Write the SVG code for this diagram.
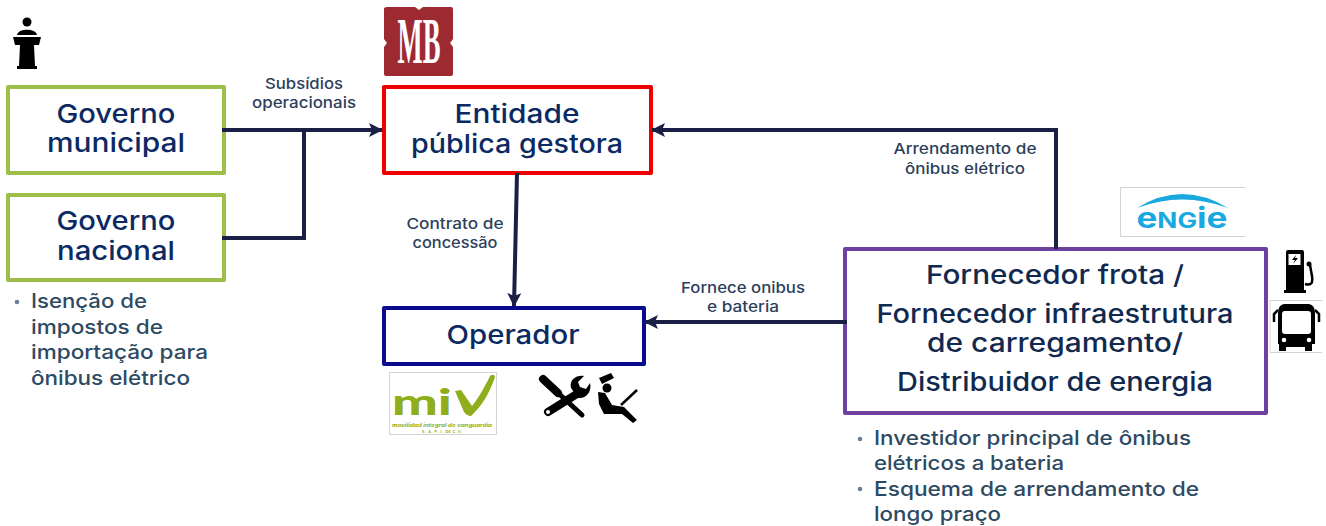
<svg xmlns="http://www.w3.org/2000/svg" width="1326" height="526" viewBox="0 0 1326 526">
<style>
text{font-family:Inter,"Liberation Sans",sans-serif}
.box{fill:#fff;stroke-width:4;stroke-linejoin:round}
.t{font-size:26px;fill:#0b2a63;text-anchor:middle;font-weight:500}
.p{font-size:26px;fill:#12294f;text-anchor:middle;font-weight:500}
.l{font-size:15px;fill:#2d3f5c;text-anchor:middle;font-weight:500}
.b{font-size:20px;fill:#2d4a63;font-weight:500}
.c{fill:none;stroke:#1a1f45;stroke-width:4}
.f{fill:#000}
.d{fill:#6d7d96}
.logo{fill:#fff;stroke:#d4d4d4;stroke-width:1}
</style>
<defs>
<marker id="a" markerUnits="userSpaceOnUse" markerWidth="16" markerHeight="16" refX="13" refY="8" orient="auto"><path d="M0 1 L14 8 L0 15 L3 8Z" fill="#1a1f45"/></marker>
</defs>
<g id="governo-municipal">
<rect class="box" x="8" y="87" width="216" height="86" stroke="#9dbf4a"/>
<text class="t" x="116" y="123" textLength="119" lengthAdjust="spacingAndGlyphs">Governo</text>
<text class="t" x="116" y="152" textLength="138" lengthAdjust="spacingAndGlyphs">municipal</text>
</g>
<g id="governo-nacional">
<rect class="box" x="8" y="195" width="216" height="85" stroke="#9dbf4a"/>
<text class="t" x="116" y="230" textLength="119" lengthAdjust="spacingAndGlyphs">Governo</text>
<text class="t" x="116" y="260" textLength="118" lengthAdjust="spacingAndGlyphs">nacional</text>
</g>
<g id="entidade">
<rect class="box" x="384" y="87" width="267" height="86" stroke="#ee0000"/>
<text class="t" x="517" y="123" textLength="125" lengthAdjust="spacingAndGlyphs">Entidade</text>
<text class="t" x="517" y="153" textLength="212" lengthAdjust="spacingAndGlyphs">pública gestora</text>
</g>
<g id="operador">
<rect class="box" x="384" y="308" width="260" height="56" stroke="#0a0a8c"/>
<text class="t" x="513" y="344" textLength="133" lengthAdjust="spacingAndGlyphs">Operador</text>
</g>
<g id="fornecedor">
<rect class="box" x="845" y="249" width="421" height="164" stroke="#7040a0"/>
<text class="p" x="1055" y="284" textLength="258" lengthAdjust="spacingAndGlyphs">Fornecedor frota /</text>
<text class="p" x="1055" y="323" textLength="357" lengthAdjust="spacingAndGlyphs">Fornecedor infraestrutura</text>
<text class="p" x="1055" y="352" textLength="256" lengthAdjust="spacingAndGlyphs">de carregamento/</text>
<text class="p" x="1055" y="391" textLength="316" lengthAdjust="spacingAndGlyphs">Distribuidor de energia</text>
</g>
<g id="connectors">
<path class="c" d="M222 130H382" marker-end="url(#a)"/>
<path class="c" d="M222 238H304V130"/>
<path class="c" d="M1056 249V130H652" marker-end="url(#a)"/>
<path class="c" d="M517 173L514 306" marker-end="url(#a)"/>
<path class="c" d="M847 322H645" marker-end="url(#a)"/>
</g>
<g id="labels">
<text class="l" x="304" y="89" textLength="78" lengthAdjust="spacingAndGlyphs">Subsídios</text>
<text class="l" x="304" y="108" textLength="104" lengthAdjust="spacingAndGlyphs">operacionais</text>
<text class="l" x="965" y="154" textLength="143" lengthAdjust="spacingAndGlyphs">Arrendamento de</text>
<text class="l" x="965" y="174" textLength="120" lengthAdjust="spacingAndGlyphs">ônibus elétrico</text>
<text class="l" x="455" y="229" textLength="97" lengthAdjust="spacingAndGlyphs">Contrato de</text>
<text class="l" x="455" y="248" textLength="85" lengthAdjust="spacingAndGlyphs">concessão</text>
<text class="l" x="743" y="293" textLength="124" lengthAdjust="spacingAndGlyphs">Fornece onibus</text>
<text class="l" x="743" y="312" textLength="72" lengthAdjust="spacingAndGlyphs">e bateria</text>
</g>
<g id="notas-governo">
<circle class="d" cx="17" cy="302" r="2.300"/>
<text class="b" x="31" y="308" textLength="116" lengthAdjust="spacingAndGlyphs">Isenção de</text>
<text class="b" x="31" y="334" textLength="132" lengthAdjust="spacingAndGlyphs">impostos de</text>
<text class="b" x="31" y="359" textLength="177" lengthAdjust="spacingAndGlyphs">importação para</text>
<text class="b" x="31" y="385" textLength="159" lengthAdjust="spacingAndGlyphs">ônibus elétrico</text>
</g>
<g id="notas-fornecedor">
<circle class="d" cx="860" cy="439" r="2.300"/>
<text class="b" x="874" y="445" textLength="317" lengthAdjust="spacingAndGlyphs">Investidor principal de ônibus</text>
<text class="b" x="874" y="470" textLength="190" lengthAdjust="spacingAndGlyphs">elétricos a bateria</text>
<circle class="d" cx="860" cy="489" r="2.300"/>
<text class="b" x="874" y="496" textLength="325" lengthAdjust="spacingAndGlyphs">Esquema de arrendamento de</text>
<text class="b" x="874" y="521" textLength="127" lengthAdjust="spacingAndGlyphs">longo praço</text>
</g>
<g id="icone-podio">
<circle cx="27" cy="22" r="4.500" class="f"/>
<path class="f" d="M17 35C18 28 36 28 37 35Z"/>
<path class="f" d="M13 37H41L39 45H34L35 66H37V69H17V66H19L20 45H15Z"/>
</g>
<g id="logo-mb">
<path fill="#9c2a30" d="M387 7H415L419 10L423 7H451Q453 7 453 9V39L450 43L453 47V74Q453 76 451 76H387Q384 76 384 74V47L387 43L384 39V9Q384 7 387 7Z"/>
<text x="419" y="63" text-anchor="middle" font-size="65" font-weight="700" fill="#fff" textLength="43" lengthAdjust="spacingAndGlyphs" style="font-family:'Liberation Serif',serif">MB</text>
</g>
<g id="logo-miv">
<rect class="logo" x="389.500" y="372.500" width="107" height="62"/>
<text x="422" y="415" text-anchor="middle" font-size="36" font-weight="900" fill="#8fae1b" textLength="60" lengthAdjust="spacingAndGlyphs" style="font-family:Lato,sans-serif">mi</text>
<path d="M455 391L461 390L472 406C480 396 486 384 490 376Q494 373 495 377C490 392 482 406 471 416Q467 416 464 412Z" fill="#8fae1b"/>
<text x="442" y="427" text-anchor="middle" font-size="5" font-style="italic" font-weight="700" fill="#8fae1b" textLength="100" lengthAdjust="spacingAndGlyphs">movilidad integral de vanguardia</text>
<text x="442" y="433" text-anchor="middle" font-size="3.500" font-weight="700" fill="#8fae1b" textLength="40">S. A. P. I. DE C.V.</text>
</g>
<g id="icone-ferramentas">
<path d="M543 379L558 393" stroke="#000" stroke-width="8" stroke-linecap="round"/>
<path d="M556 391L582 415" stroke="#000" stroke-width="5" stroke-linecap="round"/>
<path d="M578 397L549 412" stroke="none"/>
<path d="M577 393L549 411" stroke="#000" stroke-width="0"/>
<path d="M580 392L548 412" stroke="#000" stroke-width="8" stroke-linecap="round"/>
<path class="f" d="M571 388C569 380 576 375 584 376L578 382L580 387L586 389L590 383C592 391 587 399 578 398Z"/>
<circle cx="548" cy="412" r="2" fill="#fff"/>
</g>
<g id="icone-motorista">
<path class="f" d="M599 378L611 373L614 378L602 384Z"/>
<circle cx="607" cy="388" r="4.500" class="f"/>
<path class="f" d="M598 392L605 393L612 405L624 407L637 420L633 423L622 414L604 414L599 404Z"/>
<path d="M621 405L637 390" stroke="#000" stroke-width="2.500"/>
</g>
<g id="logo-engie">
<path d="M1120.500 187.500H1245M1120.500 187.500V236.500H1245" fill="#fff" stroke="#d4d4d4"/>
<path d="M1137 208Q1182 180 1228 208Q1182 191 1137 208Z" fill="#19a9e0"/>
<text x="1182" y="228" text-anchor="middle" font-weight="700" fill="#19a9e0" textLength="91" lengthAdjust="spacingAndGlyphs"><tspan font-size="28">e</tspan><tspan font-size="21">NG</tspan><tspan font-size="28">ie</tspan></text>
</g>
<g id="icone-bomba">
<path class="f" d="M1288 250H1302Q1304 250 1304 252V290H1306V293H1284V290H1286V252Q1286 250 1288 250Z"/>
<rect x="1288.500" y="254" width="12" height="11" fill="#fff"/>
<path d="M1296 255L1292 260H1295L1293 264L1298 258H1295Z" class="f"/>
<path d="M1305 284C1312 286 1313 282 1312 276L1310 265" fill="none" stroke="#000" stroke-width="2.500"/>
<circle cx="1309" cy="264" r="2.500" class="f"/>
</g>
<g id="icone-onibus">
<path d="M1270 300.500H1322M1270 300.500V352.500H1322" fill="#fff" stroke="#d4d4d4"/>
<path class="f" fill-rule="evenodd" d="M1284 304H1309Q1315 305 1315 313V344H1312V351H1305V347H1286V351H1279V344H1278V313Q1278 305 1284 304ZM1282 314V331Q1282 334 1285 334H1308Q1311 334 1311 331V314Q1311 311 1308 311H1285Q1282 311 1282 314Z"/>
<path d="M1278 310L1274 314V322M1315 310L1319 314V322" fill="none" stroke="#000" stroke-width="2.500"/>
<circle cx="1284" cy="340" r="2.300" fill="#fff"/><circle cx="1309" cy="340" r="2.300" fill="#fff"/>
</g>
</svg>
